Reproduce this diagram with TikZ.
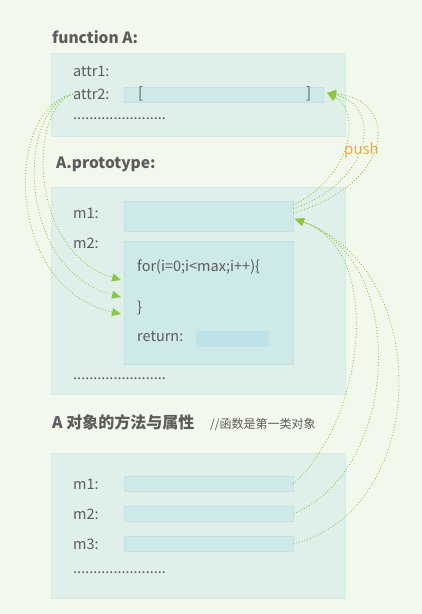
\documentclass[tikz,border=0pt]{standalone}
\usepackage{fontspec}
\setmainfont{Noto Sans CJK SC}
\usetikzlibrary{arrows.meta}
\definecolor{bgcol}{HTML}{F3F8EC}
\definecolor{boxcol}{HTML}{DFF0EA}
\definecolor{boxline}{HTML}{D2EAE6}
\definecolor{slotcol}{HTML}{CDE9E8}
\definecolor{slotline}{HTML}{C2E2E4}
\definecolor{retcol}{HTML}{BDE3E8}
\definecolor{txtcol}{HTML}{5C5C5C}
\definecolor{linkcol}{HTML}{8DC63F}
\definecolor{pushcol}{HTML}{F7A83E}
\tikzset{
  panel/.style={draw=boxline, fill=boxcol, anchor=north west, inner sep=0pt},
  slot/.style={draw=slotline, fill=slotcol, anchor=north west, inner sep=0pt},
  field/.style={anchor=west, text=txtcol, font=\fontsize{14.5}{17}\selectfont, inner sep=0pt},
  heading/.style={anchor=west, text=txtcol, font=\fontsize{15.5}{18}\selectfont\bfseries, inner sep=0pt},
  link/.style={linkcol, line width=0.9pt, dotted, -{Triangle[length=9pt,width=8pt]}},
  tail/.style={linkcol, line width=0.9pt, dotted}
}

\begin{document}
\begin{tikzpicture}[x=1pt, y=-1pt]
  \fill[bgcol] (0,0) rectangle (422,614);
  \useasboundingbox (0,0) rectangle (422,614);

  \node[heading] (fnA) at (52,37) {function A:};
  \node[panel, minimum width=294pt, minimum height=83pt] (fnbox) at (51,53) {};
  \node[field] (attr1) at (73,71) {attr1:};
  \node[field] (attr2) at (73,94) {attr2:};
  \node[slot, minimum width=199pt, minimum height=15pt] (arr) at (124,87) {};
  \node[field, font=\fontsize{15}{17}\selectfont] (lbr) at (138,94) {[};
  \node[field, font=\fontsize{15}{17}\selectfont] (rbr) at (306,94) {]};
  \node[field] (dots1) at (73,119) {.......................};

  \node[heading] (protoA) at (56,164) {A.prototype:};
  \node[panel, minimum width=294pt, minimum height=207pt] (protobox) at (51,187) {};
  \node[field] (m1) at (73,213) {m1:};
  \node[slot, minimum width=169pt, minimum height=30pt] (m1slot) at (124,201) {};
  \node[field] (m2) at (73,243) {m2:};
  \node[slot, minimum width=169pt, minimum height=123pt] (m2slot) at (124,241) {};
  \node[field] (loop) at (137,267) {for(i=0;i<max;i++)\{};
  \node[field] (close) at (137,308) {\}};
  \node[field] (ret) at (137,337) {return:};
  \node[slot, fill=retcol, minimum width=72pt, minimum height=15pt] (retslot) at (196,331) {};
  \node[field] (dots2) at (73,379) {.......................};

  \node[heading, font=\fontsize{16}{18}\selectfont\bfseries] (objA) at (52,422) {A 对象的方法与属性};
  \node[field, font=\fontsize{12}{14}\selectfont] (note) at (210,424) {//函数是第一类对象};
  \node[panel, minimum width=294pt, minimum height=145pt] (objbox) at (51,453) {};
  \node[field] (o1) at (73,484) {m1:};
  \node[slot, minimum width=169pt, minimum height=15pt] (o1slot) at (124,476) {};
  \node[field] (o2) at (73,514) {m2:};
  \node[slot, minimum width=169pt, minimum height=15pt] (o2slot) at (124,506) {};
  \node[field] (o3) at (73,544) {m3:};
  \node[slot, minimum width=169pt, minimum height=15pt] (o3slot) at (124,536) {};
  \node[field] (dots3) at (73,573) {.......................};

  \node[anchor=west, inner sep=0pt, text=pushcol, font=\fontsize{15}{17}\selectfont] (push) at (344,150) {push};

  \coordinate (t1) at (121,280);
  \coordinate (t2) at (121,297);
  \coordinate (t3) at (121,314);
  \draw[link] (attr2.west) .. controls (28,108) and (28,252) .. (t1);
  \draw[link] (attr2.west) .. controls (16,108) and (16,270) .. (t2);
  \draw[link] (attr2.west) .. controls (4,108) and (4,288) .. (t3);

  \coordinate (p1) at (293,205);
  \coordinate (p2) at (293,209);
  \coordinate (p3) at (293,213);
  \coordinate (ptip) at (327,93);
  \draw[link] (p1) .. controls (355,175) and (360,110) .. (ptip);
  \draw[link] (p2) .. controls (375,180) and (382,105) .. (ptip);
  \draw[link] (p3) .. controls (393,185) and (402,100) .. (ptip);

  \coordinate (q1) at (o1slot.east);
  \coordinate (q2) at (o2slot.east);
  \coordinate (q3) at (o3slot.east);
  \coordinate (qtip) at (295,219);
  \draw[link] (q1) .. controls (365,420) and (385,250) .. (qtip);
  \draw[link] (q2) .. controls (400,470) and (410,260) .. (qtip);
  \draw[link] (q3) .. controls (430,510) and (435,270) .. (qtip);
\end{tikzpicture}
\end{document}
